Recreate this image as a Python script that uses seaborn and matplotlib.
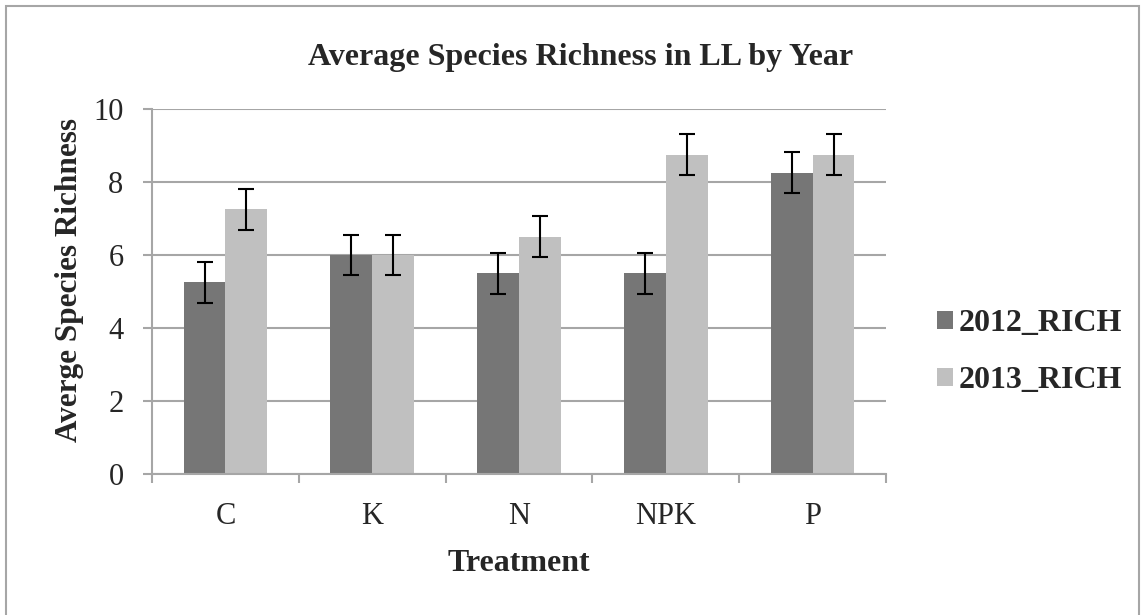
import numpy as np
import pandas as pd
import matplotlib
matplotlib.use("Agg")
import matplotlib.pyplot as plt
import seaborn as sns

# data
treatments = ["C", "K", "N", "NPK", "P"]
rich_2012 = [5.25, 6.0, 5.5, 5.5, 8.25]
rich_2013 = [7.25, 6.0, 6.5, 8.75, 8.75]
err_2012 = [0.56, 0.56, 0.56, 0.56, 0.56]
err_2013 = [0.56, 0.56, 0.56, 0.56, 0.56]
series = ["2012_RICH", "2013_RICH"]

df = pd.DataFrame({
    "Treatment": treatments * 2,
    "Richness": rich_2012 + rich_2013,
    "Year": [series[0]] * 5 + [series[1]] * 5,
})

sns.set_theme(style="white")
plt.rcParams["font.family"] = ["Liberation Serif", "DejaVu Serif"]

fig = plt.figure(figsize=(11.45, 6.15), dpi=100)
ax = fig.add_axes([0.1328, 0.2293, 0.641, 0.5935])

sns.barplot(data=df, x="Treatment", y="Richness", hue="Year",
            palette=["#767676", "#c0c0c0"], width=0.57, saturation=1,
            errorbar=None, linewidth=0, ax=ax)

# error bars on top of each bar
for cont, errs in zip(ax.containers, [err_2012, err_2013]):
    xs = [b.get_x() + b.get_width() / 2 for b in cont]
    ys = [b.get_height() for b in cont]
    ax.errorbar(xs, ys, yerr=errs, fmt="none", ecolor="black",
                elinewidth=1.5, capsize=5.8, capthick=1.5, zorder=5)

ax.set_ylim(0, 10)
ax.set_xlim(-0.5, 4.5)
ax.set_yticks([0, 2, 4, 6, 8, 10])
ax.yaxis.grid(True, color="#a6a6a6", linewidth=1.5)
ax.set_axisbelow(True)
for s in ["top", "right"]:
    ax.spines[s].set_visible(False)
for s in ["left", "bottom"]:
    ax.spines[s].set_color("#a6a6a6")
    ax.spines[s].set_linewidth(1.5)

# x ticks on category boundaries, labels in the middle
ax.set_xticks(np.arange(-0.5, 5, 1))
ax.set_xticklabels([])
ax.set_xticks(range(5), minor=True)
ax.set_xticklabels(treatments, minor=True)
ax.tick_params(axis="x", which="major", direction="out", length=6.5,
               width=1.5, color="#a6a6a6", bottom=True)
ax.tick_params(axis="x", which="minor", length=0, pad=20, labelsize=22)
ax.tick_params(axis="y", direction="out", length=6.5, width=1.5,
               color="#a6a6a6", left=True, labelsize=22, pad=14)

ax.set_xlabel("Treatment", fontsize=23, fontweight="bold", va="center")
ax.xaxis.set_label_coords(0.5, -0.244)
ax.set_ylabel("Averge Species Richness", fontsize=22.5, fontweight="bold",
              va="center")
ax.yaxis.set_label_coords(-0.112, 0.531)
fig.text(0.507, 0.894, "Average Species Richness in LL by Year",
         ha="center", va="baseline", fontsize=23, fontweight="bold")

leg = ax.legend(loc="center left", bbox_to_anchor=(0.818, 0.427),
                bbox_transform=fig.transFigure, frameon=False,
                prop={"size": 23, "weight": "bold"},
                borderaxespad=0, borderpad=0,
                handlelength=0.5, handleheight=0.5, handletextpad=0.2,
                labelspacing=0.88)

# outer border of the chart (bottom edge falls outside the picture)
fig.patches.append(plt.Rectangle((0.0052, -0.01), 0.9895, 1.0002,
                                 transform=fig.transFigure, fill=False,
                                 edgecolor="#a6a6a6", linewidth=1.5))

plt.savefig("out.png", dpi=100)
